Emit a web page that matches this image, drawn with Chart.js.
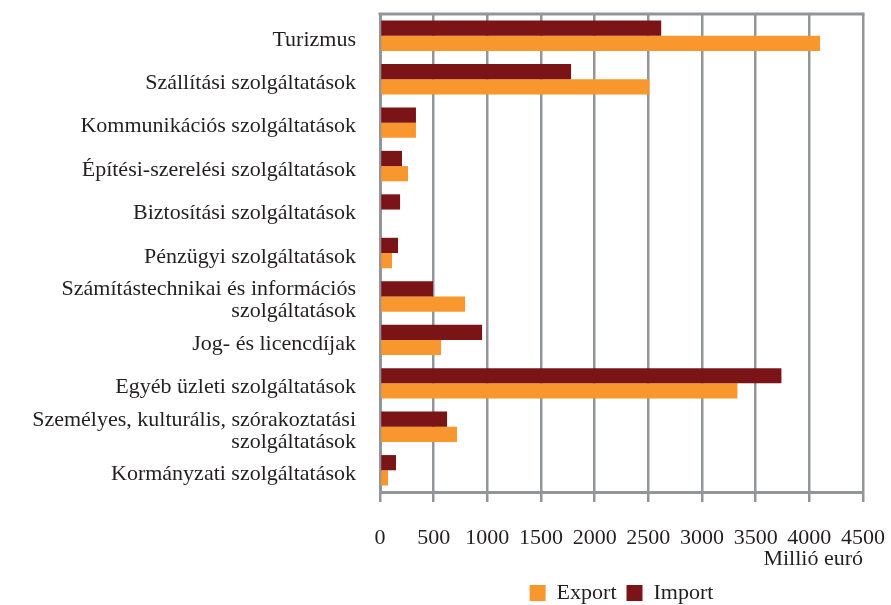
<!DOCTYPE html>
<html>
<head>
<meta charset="utf-8">
<script src="https://cdn.jsdelivr.net/npm/chart.js@4"></script>
<style>
  html, body { margin: 0; padding: 0; background: #fff; }
  #wrap { width: 891px; height: 605px; }
</style>
</head>
<body>
<div id="wrap"><canvas id="c" width="891" height="605"></canvas></div>
<script>
// ── Données ──────────────────────────────────────────────────────────────────
const categories = [
  "Turizmus",
  "Szállítási szolgáltatások",
  "Kommunikációs szolgáltatások",
  "Építési-szerelési szolgáltatások",
  "Biztosítási szolgáltatások",
  "Pénzügyi szolgáltatások",
  ["Számítástechnikai és információs", "szolgáltatások"],
  "Jog- és licencdíjak",
  "Egyéb üzleti szolgáltatások",
  ["Személyes, kulturális, szórakoztatási", "szolgáltatások"],
  "Kormányzati szolgáltatások",
];
const importValues = [2620, 1780, 335, 205, 187, 168, 494, 951, 3740, 625, 149];
const exportValues = [4100, 2510, 335, 261, 0, 112, 793, 569, 3330, 718, 75];
const xTicks = [0, 4500, 500]; // min, max, pas

// ── Style ────────────────────────────────────────────────────────────────────
const ORANGE = "#F8972E";
const DARKRED = "#7B1416";
const GRID = "#939598";
const TXT = "#231F20";
const SERIF = "'Liberation Serif', 'DejaVu Serif', serif";

Chart.defaults.font.family = SERIF;
Chart.defaults.font.size = 22;
Chart.defaults.color = TXT;

// bordure haute du cadre
const topBorder = {
  id: 'topBorder',
  afterDraw(chart) {
    const { ctx, chartArea: a } = chart;
    ctx.save();
    ctx.strokeStyle = GRID;
    ctx.lineWidth = 3;
    ctx.beginPath();
    ctx.moveTo(a.left - 1.5, a.top);
    ctx.lineTo(a.right + 1.5, a.top);
    ctx.stroke();
    ctx.restore();
  }
};

new Chart(document.getElementById('c').getContext('2d'), {
  type: 'bar',
  data: {
    labels: categories,
    datasets: [
      { label: 'Import', data: importValues, backgroundColor: DARKRED },
      { label: 'Export', data: exportValues, backgroundColor: ORANGE },
    ],
  },
  options: {
    indexAxis: 'y',
    responsive: false,
    animation: false,
    categoryPercentage: 0.7,
    barPercentage: 1.0,
    layout: { padding: { top: 14, right: 28, left: 0, bottom: -9 } },
    plugins: {
      tooltip: { enabled: false },
      legend: {
        position: 'bottom',
        fullSize: false,
        reverse: true,
        labels: {
          boxWidth: 16,
          boxHeight: 16,
          padding: 10,
          color: TXT,
          font: { family: SERIF, size: 22 },
        },
      },
    },
    scales: {
      x: {
        min: xTicks[0],
        max: xTicks[1],
        ticks: {
          stepSize: xTicks[2],
          padding: 23,
          color: TXT,
          font: { size: 22 },
          callback: v => String(v),
        },
        grid: { color: GRID, lineWidth: 2.5, tickLength: 10, tickColor: GRID, tickWidth: 2.5 },
        border: { color: GRID, width: 3 },
        title: {
          display: true,
          text: 'Millió euró',
          align: 'end',
          color: TXT,
          font: { size: 22 },
          padding: { top: 0, bottom: 0 },
        },
        afterFit: s => { s.height = 80; s.paddingLeft = 0; s.paddingRight = 0; },
      },
      y: {
        grid: { display: false },
        border: { color: GRID, width: 3 },
        ticks: {
          padding: 16,
          labelOffset: 4,
          color: TXT,
          font: { size: 22, lineHeight: 1.0 },
          autoSkip: false,
        },
        afterFit: s => { s.width = 380; s.paddingTop = 0; s.paddingBottom = 0; },
      },
    },
  },
  plugins: [topBorder],
});
</script>
</body>
</html>
